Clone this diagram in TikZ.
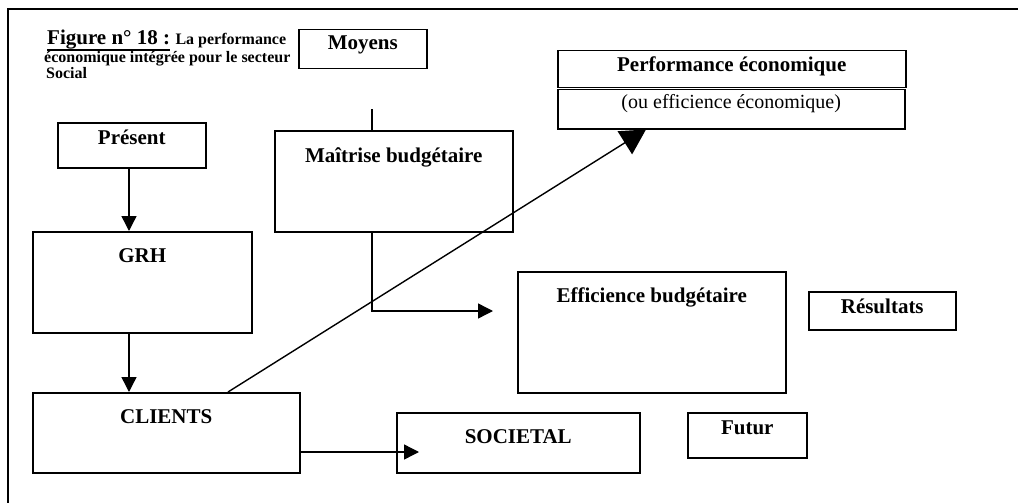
\documentclass[tikz,border=0pt]{standalone}
\usepackage{fontspec}
\setmainfont{Liberation Serif}
\usetikzlibrary{arrows.meta}
\begin{document}
\begin{tikzpicture}[x=1pt,y=-1pt,
  box/.style={draw, line width=1.5pt, inner sep=0pt, anchor=north west},
  lbl/.style={anchor=base, inner sep=0pt, font=\fontsize{21}{24}\selectfont\bfseries},
  sub/.style={anchor=base, inner sep=0pt, font=\fontsize{20}{23}\selectfont},
  ttl/.style={anchor=base west, inner sep=0pt, font=\fontsize{16}{18}\selectfont\bfseries},
  link/.style={line width=1.4pt},
  arr/.style={line width=1.4pt, -{Triangle[length=15pt,width=15pt]}},
  bigarr/.style={line width=1.4pt, -{Triangle[length=25pt,width=27pt]}},
]
\useasboundingbox (0,0) rectangle (1018,503);

% page frame (left and top rules)
\draw[line width=2pt] (8,503) -- (8,9) -- (1018,9);

% title
\node[anchor=base west, inner sep=0pt, font=\fontsize{21}{24}\selectfont\bfseries] (fig) at (47,45) {Figure n° 18 :};
\draw[line width=1.6pt] ([yshift=-5pt]fig.base west) -- ([yshift=-5pt]fig.base east);
\node[ttl, xshift=5pt] (ttl1) at (fig.base east) {La performance};
\node[ttl] (ttl2) at (44,63) {économique intégrée pour le secteur};
\node[ttl] (ttl3) at (46,79) {Social};

% boxes
\node[box, minimum width=128pt, minimum height=39pt]  (moy)  at (298,29)  {};
\node[box, minimum width=148pt, minimum height=45pt]  (pre)  at (57,122)  {};
\node[box, minimum width=238pt, minimum height=101pt] (mai)  at (274,130) {};
\node[box, minimum width=219pt, minimum height=101pt] (grh)  at (32,231)  {};
\node[box, minimum width=267pt, minimum height=80pt]  (cli)  at (32,392)  {};
\node[box, minimum width=243pt, minimum height=60pt]  (soc)  at (396,412) {};
\node[box, minimum width=348pt, minimum height=37pt]  (perf) at (557,50)  {};
\node[box, minimum width=347pt, minimum height=39pt]  (eco)  at (557,89)  {};
\node[box, minimum width=268pt, minimum height=121pt] (eff)  at (517,271) {};
\node[box, minimum width=147pt, minimum height=38pt]  (res)  at (808,291) {};
\node[box, minimum width=119pt, minimum height=45pt]  (fut)  at (687,412) {};

% box labels
\node[lbl, yshift=-21pt] (tmoy)  at (moy.north)  {Moyens};
\node[lbl, yshift=-22pt] (tpre)  at (pre.north)  {Présent};
\node[lbl, yshift=-32pt] (tmai)  at (mai.north)  {Maîtrise budgétaire};
\node[lbl, yshift=-31pt] (tgrh)  at (grh.north)  {GRH};
\node[lbl, yshift=-31pt] (tcli)  at (cli.north)  {CLIENTS};
\node[lbl, yshift=-31pt] (tsoc)  at (soc.north)  {SOCIETAL};
\node[lbl, yshift=-22pt] (tperf) at (perf.north) {Performance économique};
\node[sub, yshift=-20pt] (teco)  at (eco.north)  {(ou efficience économique)};
\node[lbl, yshift=-31pt] (teff)  at (eff.north)  {Efficience budgétaire};
\node[lbl, yshift=-22pt] (tres)  at (res.north)  {Résultats};
\node[lbl, yshift=-22pt] (tfut)  at (fut.north)  {Futur};

% connectors
\coordinate (px) at (129,0);
\draw[arr] (px |- pre.south) -- (px |- grh.north);
\draw[arr] (px |- grh.south) -- (px |- cli.north);

\coordinate (stub) at (372,109);
\coordinate (effin) at (493,311);
\draw[link] (stub) -- (stub |- mai.north);
\draw[arr] (stub |- mai.south) |- (effin);

\coordinate (socin) at (419,452);
\draw[arr] (cli.east |- socin) -- (socin);

\draw[bigarr] ([xshift=196pt]cli.north west) -- ([xshift=89pt]eco.south west);
\end{tikzpicture}
\end{document}
